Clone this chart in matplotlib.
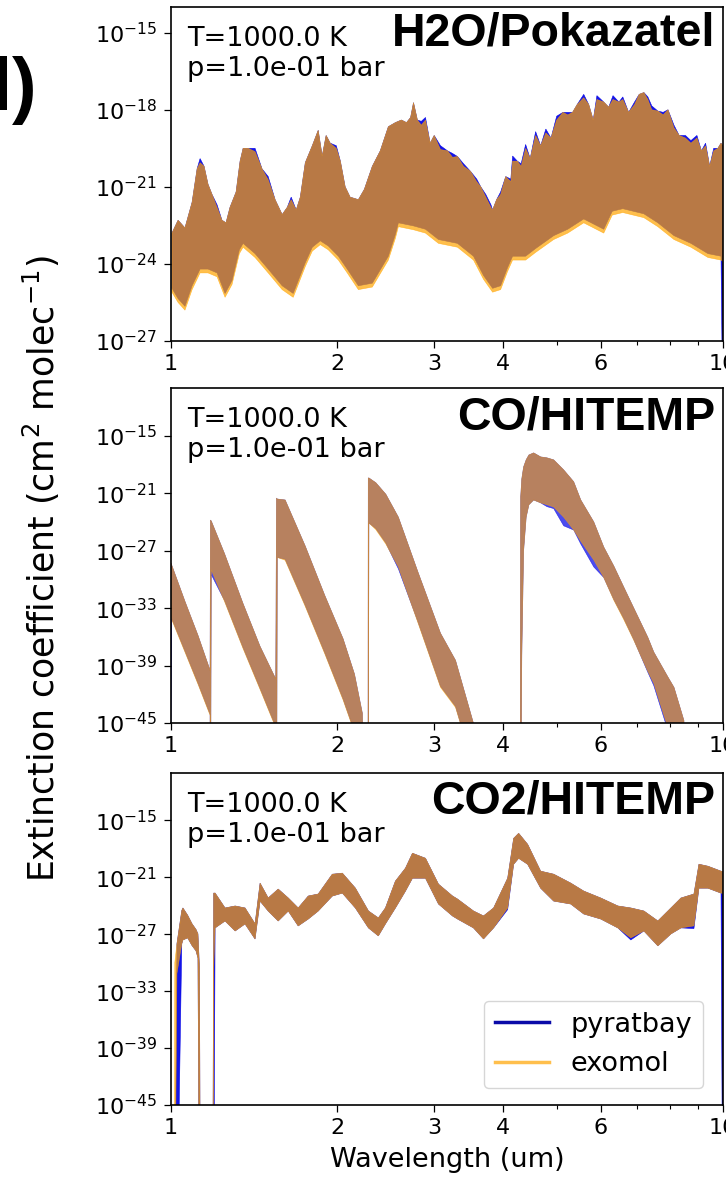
import numpy as np
import matplotlib
matplotlib.use("Agg")
import matplotlib.pyplot as plt
from matplotlib.ticker import FixedLocator, NullLocator, NullFormatter

# ---------------------------------------------------------------------------
# Extinction-coefficient envelopes, log10(cm^2 molec^-1), vs wavelength (um).
# Each series is drawn as the band between its upper and lower envelope.
# ---------------------------------------------------------------------------

# H2O / Pokazatel -- upper envelope
h2o_hi_wl = [1.004, 1.030, 1.060, 1.092, 1.115, 1.129, 1.148, 1.167, 1.187, 1.212,
             1.237, 1.258, 1.279, 1.312, 1.334, 1.351, 1.380, 1.420, 1.462, 1.500,
             1.544, 1.590, 1.624, 1.651, 1.686, 1.715, 1.751, 1.803, 1.848, 1.879,
             1.910, 1.943, 1.993, 2.027, 2.068, 2.111, 2.185, 2.240, 2.316, 2.394,
             2.476, 2.550, 2.615, 2.671, 2.717, 2.750, 2.795, 2.841, 2.891, 2.948,
             2.998, 3.078, 3.170, 3.236, 3.304, 3.388, 3.489, 3.580, 3.641, 3.719,
             3.799, 3.825, 3.889, 3.955, 4.040, 4.127, 4.158, 4.241, 4.309, 4.390,
             4.474, 4.577, 4.674, 4.776, 4.880, 4.997, 5.130, 5.233, 5.340, 5.442,
             5.594, 5.713, 5.820, 5.910, 6.081, 6.208, 6.320, 6.479, 6.584, 6.747,
             6.914, 7.050, 7.190, 7.310, 7.430, 7.621, 7.790, 7.950, 8.151, 8.330,
             8.550, 8.748, 8.970, 9.140, 9.300, 9.460, 9.620, 9.790, 9.917, 9.990]
h2o_exo_hi = [-22.80, -22.30, -22.60, -21.60, -20.30, -20.06, -20.20, -20.90, -21.30, -21.80,
              -22.30, -22.40, -21.80, -21.20, -20.00, -19.50, -19.50, -19.63, -20.30, -20.72,
              -21.50, -22.08, -21.80, -21.50, -21.90, -21.40, -20.06, -19.40, -18.80, -19.80,
              -19.00, -19.30, -19.50, -20.00, -21.00, -21.40, -21.50, -21.10, -20.20, -19.60,
              -18.66, -18.50, -18.40, -18.50, -18.30, -17.72, -18.40, -18.60, -18.40, -19.30,
              -19.00, -19.55, -19.60, -19.85, -19.82, -20.20, -20.40, -20.80, -21.00, -21.40,
              -21.80, -21.90, -21.50, -21.30, -20.60, -20.80, -20.00, -20.00, -20.20, -19.50,
              -19.90, -19.00, -19.40, -18.90, -19.10, -18.40, -18.10, -18.20, -18.10, -17.80,
              -17.53, -17.80, -18.40, -17.60, -17.70, -17.90, -17.60, -17.70, -17.60, -18.10,
              -17.80, -17.40, -17.33, -17.60, -18.00, -18.05, -18.20, -18.00, -18.70, -19.00,
              -19.10, -19.30, -19.10, -19.60, -19.40, -20.20, -19.60, -19.50, -19.30, -19.40]
h2o_pyr_hi = [-22.80, -22.30, -22.60, -21.60, -20.30, -19.90, -20.20, -20.90, -21.30, -21.70,
              -22.30, -22.40, -21.80, -21.20, -20.00, -19.50, -19.50, -19.50, -20.30, -20.60,
              -21.50, -22.08, -21.80, -21.40, -21.90, -21.40, -20.06, -19.40, -18.80, -19.80,
              -19.00, -19.30, -19.40, -20.00, -21.00, -21.40, -21.50, -21.10, -20.20, -19.60,
              -18.66, -18.50, -18.40, -18.50, -18.30, -17.72, -18.40, -18.45, -18.30, -19.30,
              -19.00, -19.40, -19.60, -19.70, -19.82, -20.10, -20.40, -20.70, -21.00, -21.30,
              -21.70, -21.90, -21.50, -21.20, -20.60, -20.70, -19.80, -20.00, -20.10, -19.35,
              -19.90, -18.85, -19.40, -18.75, -19.10, -18.25, -18.10, -18.10, -18.10, -17.80,
              -17.40, -17.80, -18.40, -17.45, -17.70, -17.90, -17.45, -17.70, -17.50, -18.10,
              -17.70, -17.40, -17.33, -17.50, -17.85, -18.05, -18.10, -18.00, -18.60, -19.00,
              -19.00, -19.20, -19.00, -19.60, -19.30, -20.20, -19.50, -19.50, -19.30, -19.40]

# H2O / Pokazatel -- lower envelope
h2o_lo_wl = [1.004, 1.030, 1.060, 1.092, 1.129, 1.167, 1.212, 1.253, 1.290, 1.330,
             1.351, 1.420, 1.500, 1.590, 1.665, 1.751, 1.803, 1.864, 1.927, 2.010,
             2.086, 2.185, 2.316, 2.476, 2.550, 2.582, 2.750, 2.891, 3.052, 3.304,
             3.532, 3.683, 3.825, 3.955, 4.070, 4.158, 4.390, 4.577, 4.935, 5.233,
             5.594, 6.081, 6.300, 6.584, 7.190, 7.621, 8.151, 8.748, 9.393, 9.917,
             9.990]
h2o_exo_lo = [-25.10, -25.50, -25.80, -25.00, -24.35, -24.35, -24.50, -25.30, -24.80, -23.60,
              -23.35, -23.75, -24.35, -25.00, -25.30, -24.10, -23.50, -23.25, -23.45, -23.85,
              -24.35, -25.00, -24.90, -23.85, -23.00, -22.55, -22.67, -22.80, -23.20, -23.35,
              -23.85, -24.60, -25.10, -25.00, -24.30, -23.85, -23.85, -23.55, -23.05, -22.80,
              -22.40, -22.80, -22.10, -22.00, -22.20, -22.55, -23.05, -23.35, -23.75, -23.85,
              -23.90]
h2o_pyr_lo = [-24.95, -25.35, -25.65, -24.85, -24.20, -24.20, -24.35, -25.15, -24.65, -23.45,
              -23.20, -23.60, -24.20, -24.85, -25.15, -23.95, -23.35, -23.10, -23.30, -23.70,
              -24.20, -24.85, -24.75, -23.70, -22.85, -22.40, -22.52, -22.65, -23.05, -23.20,
              -23.70, -24.45, -24.95, -24.85, -24.15, -23.70, -23.70, -23.40, -22.90, -22.65,
              -22.25, -22.65, -21.95, -21.85, -22.05, -22.40, -22.90, -23.20, -23.60, -23.70,
              -30.00]

# CO / HITEMP
co_wl = [1.000, 1.003, 1.060, 1.120, 1.177, 1.179, 1.183, 1.250, 1.350, 1.450,
         1.548, 1.553, 1.558, 1.610, 1.750, 1.900, 2.050, 2.150, 2.222, 2.240,
         2.274, 2.277, 2.283, 2.350, 2.450, 2.582, 2.800, 3.078, 3.277, 3.550,
         3.600, 4.290, 4.300, 4.320, 4.353, 4.400, 4.450, 4.539, 4.674, 4.800,
         4.935, 5.145, 5.365, 5.525, 5.834, 6.081, 6.341, 6.611, 6.893, 7.308,
         7.493, 7.947, 8.151, 8.496, 8.600, 10.00]
co_exo_hi = [-28.30, -28.50, -32.30, -35.90, -39.50, -23.80, -23.90, -27.30, -32.50, -37.00,
             -40.40, -21.50, -21.60, -21.70, -26.50, -31.70, -36.20, -39.90, -44.00, -60.00,
             -60.00, -19.40, -19.40, -19.90, -21.10, -23.50, -29.20, -35.63, -38.46, -45.50,
             -60.00, -60.00, -21.40, -19.50, -18.25, -17.50, -17.00, -16.78, -17.20, -17.30,
             -17.51, -18.56, -19.80, -21.70, -24.00, -26.62, -28.60, -30.81, -33.00, -36.05,
             -37.60, -40.20, -41.28, -44.74, -60.00, -60.00]
co_exo_lo = [-34.00, -34.20, -37.60, -41.00, -44.20, -60.00, -29.00, -32.30, -37.20, -41.50,
             -45.50, -60.00, -27.70, -28.00, -32.80, -37.80, -42.60, -46.00, -55.00, -60.00,
             -60.00, -60.00, -24.10, -24.80, -26.30, -28.70, -34.50, -41.28, -43.38, -50.00,
             -60.00, -60.00, -60.00, -38.00, -27.00, -23.50, -22.20, -21.70, -22.00, -22.20,
             -22.43, -23.50, -24.84, -26.00, -27.98, -29.80, -32.17, -34.20, -36.36, -39.60,
             -40.86, -45.50, -48.00, -50.00, -60.00, -60.00]
co_pyr_hi = [-28.30, -28.50, -32.30, -35.90, -39.50, -23.80, -23.90, -27.30, -32.50, -37.00,
             -40.40, -21.50, -21.60, -21.70, -26.50, -31.70, -36.20, -39.90, -44.00, -60.00,
             -60.00, -19.40, -19.40, -19.90, -21.10, -23.50, -29.20, -35.63, -38.46, -45.50,
             -60.00, -60.00, -21.40, -19.50, -18.25, -17.50, -17.00, -16.78, -17.20, -17.30,
             -17.51, -18.56, -19.80, -21.70, -24.00, -26.62, -28.60, -30.81, -33.00, -36.05,
             -37.60, -40.20, -41.28, -44.74, -60.00, -60.00]
co_pyr_lo = [-45.00, -34.10, -37.50, -40.90, -44.10, -60.00, -29.50, -32.20, -37.10, -41.40,
             -45.40, -60.00, -27.70, -27.90, -32.70, -37.70, -42.50, -45.90, -55.00, -60.00,
             -60.00, -60.00, -24.10, -24.70, -26.20, -28.90, -34.40, -41.18, -43.28, -50.00,
             -60.00, -60.00, -60.00, -38.00, -27.00, -23.50, -22.20, -21.70, -22.00, -22.40,
             -22.60, -24.40, -24.84, -26.30, -28.70, -29.80, -32.10, -34.10, -36.30, -39.70,
             -41.10, -45.80, -48.00, -50.00, -60.00, -60.00]

# CO2 / HITEMP
co2_wl = [1.013, 1.016, 1.025, 1.046, 1.051, 1.072, 1.092, 1.110, 1.119, 1.126,
          1.131, 1.190, 1.195, 1.202, 1.253, 1.307, 1.362, 1.420, 1.450, 1.500,
          1.564, 1.631, 1.700, 1.773, 1.848, 1.960, 2.044, 2.158, 2.279, 2.375,
          2.446, 2.550, 2.659, 2.738, 2.891, 3.052, 3.236, 3.304, 3.532, 3.683,
          3.841, 4.073, 4.176, 4.264, 4.427, 4.674, 4.935, 5.299, 5.594, 6.005,
          6.450, 6.808, 7.190, 7.621, 8.049, 8.392, 8.858, 9.045, 9.393, 9.917,
          9.990]
co2_exo_hi = [-60.00, -30.00, -28.01, -24.50, -24.23, -25.00, -25.91, -26.50, -26.96, -30.50,
              -60.00, -60.00, -22.66, -22.66, -24.23, -24.02, -24.23, -25.90, -21.61, -23.18,
              -22.24, -23.18, -24.23, -22.97, -22.76, -20.67, -20.56, -22.14, -24.55, -25.28,
              -24.23, -21.40, -20.04, -18.46, -18.99, -21.72, -22.97, -23.29, -24.55, -25.07,
              -24.23, -21.09, -16.89, -16.36, -17.52, -20.35, -20.67, -21.61, -22.45, -23.18,
              -24.02, -24.23, -24.55, -25.60, -24.23, -23.18, -22.76, -19.62, -19.83, -20.35,
              -20.40]
co2_exo_lo = [-60.00, -60.00, -31.16, -28.01, -27.60, -27.38, -28.20, -28.75, -29.50, -60.00,
              -60.00, -60.00, -30.50, -26.33, -25.60, -26.65, -25.91, -27.50, -23.50, -24.55,
              -25.60, -24.55, -26.12, -25.39, -24.55, -22.97, -22.66, -24.23, -26.33, -27.17,
              -25.91, -24.23, -22.45, -21.09, -21.09, -23.81, -25.07, -25.39, -26.33, -27.49,
              -26.33, -24.23, -19.62, -18.99, -19.62, -22.14, -23.50, -23.81, -24.86, -25.39,
              -26.33, -27.38, -26.65, -28.22, -26.96, -26.33, -26.12, -22.14, -22.14, -22.66,
              -22.70]
co2_pyr_hi = [-60.00, -60.00, -28.01, -24.50, -24.23, -25.00, -25.91, -26.50, -26.96, -30.50,
              -60.00, -60.00, -22.66, -22.66, -24.23, -24.02, -24.23, -25.90, -21.61, -23.18,
              -22.24, -23.18, -24.23, -22.97, -22.76, -20.67, -20.56, -22.14, -24.55, -25.28,
              -24.23, -21.40, -20.04, -18.46, -18.99, -21.72, -22.97, -23.29, -24.55, -25.07,
              -24.23, -21.09, -16.89, -16.36, -17.52, -20.35, -20.67, -21.61, -22.45, -23.18,
              -24.02, -24.23, -24.55, -25.60, -24.23, -23.18, -22.76, -19.62, -19.83, -20.35,
              -20.40]
co2_pyr_lo = [-60.00, -60.00, -60.00, -28.01, -27.60, -27.38, -28.20, -28.75, -29.50, -60.00,
              -60.00, -60.00, -60.00, -26.33, -25.60, -26.65, -25.91, -27.50, -23.50, -24.55,
              -25.60, -24.55, -26.12, -25.39, -24.55, -22.97, -22.66, -24.23, -26.33, -27.17,
              -25.91, -24.23, -22.45, -21.09, -21.09, -23.81, -25.07, -25.39, -26.33, -27.49,
              -26.33, -24.40, -19.62, -18.99, -19.62, -22.14, -23.50, -23.81, -24.86, -25.39,
              -26.33, -27.60, -26.65, -28.22, -26.96, -26.33, -26.40, -22.14, -22.14, -22.66,
              -60.00]

panel_names = ["H2O/Pokazatel", "CO/HITEMP", "CO2/HITEMP"]
condition_text = "T=1000.0 K\np=1.0e-01 bar"
series_names = ["pyratbay", "exomol"]

xtick_major = [1, 2, 3, 4, 6, 10]
xtick_minor = [5, 7, 8, 9]
ytick_h2o = [-27, -24, -21, -18, -15]
ytick_other = [-45, -39, -33, -27, -21, -15]

# ---------------------------------------------------------------------------
PYR_COLOR = "#0000e6"
LEGEND_BLUE = "#0a0aa8"
EXO_COLOR = "orange"

W, H = 726, 1189
fig = plt.figure(figsize=(W / 100, H / 100), dpi=100)


def px_axes(left, top, right, bottom):
    return [left / W, 1 - bottom / H, (right - left) / W, (bottom - top) / H]


def band(ax, wl_hi, hi, wl_lo, lo, **kw):
    """Fill the region between an upper and a lower log10 envelope."""
    xs = np.concatenate([np.asarray(wl_hi), np.asarray(wl_lo)[::-1]])
    ys = np.power(10.0, np.concatenate([np.asarray(hi), np.asarray(lo)[::-1]]))
    ax.fill(xs, ys, **kw)


panels = [
    dict(rect=px_axes(171, 7, 723, 341), ylim=(1e-27, 1e-14), yt=ytick_h2o,
         pyr=(h2o_hi_wl, h2o_pyr_hi, h2o_lo_wl, h2o_pyr_lo),
         exo=(h2o_hi_wl, h2o_exo_hi, h2o_lo_wl, h2o_exo_lo),
         a_pyr=0.92, a_exo=0.70, title_dy=-5),
    dict(rect=px_axes(171, 388, 723, 723), ylim=(1e-45, 1e-10), yt=ytick_other,
         pyr=(co_wl, co_pyr_hi, co_wl, co_pyr_lo),
         exo=(co_wl, co_exo_hi, co_wl, co_exo_lo),
         a_pyr=0.70, a_exo=0.60, title_dy=-8),
    dict(rect=px_axes(171, 773, 723, 1105), ylim=(1e-45, 1e-10), yt=ytick_other,
         pyr=(co2_wl, co2_pyr_hi, co2_wl, co2_pyr_lo),
         exo=(co2_wl, co2_exo_hi, co2_wl, co2_exo_lo),
         a_pyr=0.92, a_exo=0.70, title_dy=-6),
]

axes = []
for name, p in zip(panel_names, panels):
    ax = fig.add_axes(p["rect"])
    axes.append(ax)
    band(ax, *p["pyr"], facecolor=PYR_COLOR, edgecolor=PYR_COLOR,
         alpha=p["a_pyr"], lw=0.4)
    band(ax, *p["exo"], facecolor=EXO_COLOR, edgecolor=EXO_COLOR,
         alpha=p["a_exo"], lw=0.4)
    ax.set_xscale("log")
    ax.set_yscale("log")
    ax.set_xlim(1, 10)
    ax.set_ylim(*p["ylim"])

    ax.xaxis.set_major_locator(FixedLocator(xtick_major))
    ax.set_xticklabels([str(v) for v in xtick_major])
    ax.xaxis.set_minor_locator(FixedLocator(xtick_minor))
    ax.xaxis.set_minor_formatter(NullFormatter())
    ax.yaxis.set_major_locator(FixedLocator([10.0 ** e for e in p["yt"]]))
    ax.set_yticklabels([r"$10^{%d}$" % e for e in p["yt"]])
    ax.yaxis.set_minor_locator(NullLocator())

    ax.tick_params(which="major", length=5, width=0.9, labelsize=16, pad=4.5)
    ax.tick_params(which="minor", length=3, width=0.8)
    ax.tick_params(axis="y", pad=5)
    for s in ax.spines.values():
        s.set_linewidth(1.2)

    ax.annotate(condition_text, xy=(0, 1), xycoords="axes fraction",
                xytext=(16 * 0.72, -19 * 0.72), textcoords="offset points",
                ha="left", va="top", fontsize=19.5)
    ax.annotate(name, xy=(1, 1), xycoords="axes fraction",
                xytext=(-8 * 0.72, p["title_dy"] * 0.72),
                textcoords="offset points",
                ha="right", va="top", fontsize=33.5, fontweight="bold",
                family="Liberation Sans")

axes[2].set_xlabel("Wavelength (um)", fontsize=19.5, labelpad=6)

handles = [plt.Line2D([], [], color=LEGEND_BLUE, lw=2.5),
           plt.Line2D([], [], color=EXO_COLOR, alpha=0.7, lw=2.5)]
axes[2].legend(handles, series_names, loc="lower right", fontsize=19.5,
               borderaxespad=0, bbox_to_anchor=(0.9638, 0.0512))

fig.text(0.0565, 0.5215, r"Extinction coefficient (cm$^2$ molec$^{-1}$)",
         rotation=90, ha="center", va="center", fontsize=25)
fig.text(-0.046, 1 - 110 / H, "d)", ha="left", va="baseline", fontsize=53,
         fontweight="bold", family="Liberation Sans")

fig.savefig("out.png", dpi=100)
